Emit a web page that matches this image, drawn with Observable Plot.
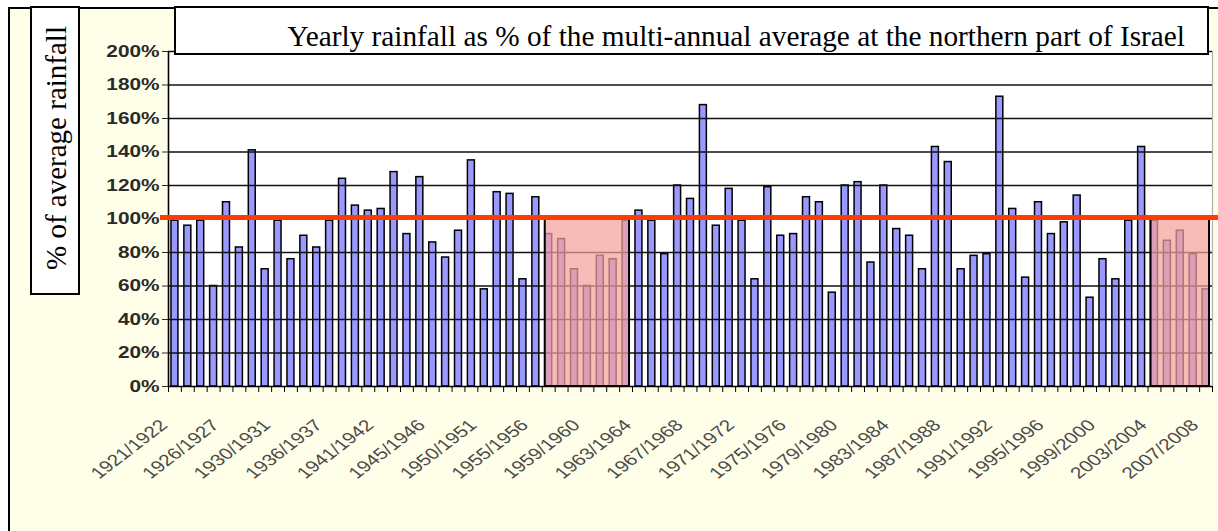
<!DOCTYPE html>
<html>
<head>
<meta charset="utf-8">
<script src="https://cdn.jsdelivr.net/npm/d3@7"></script>
<script src="https://cdn.jsdelivr.net/npm/@observablehq/plot@0.6"></script>
<style>
  html, body { margin: 0; padding: 0; background: #fff; }
  #wrap { position: relative; width: 1218px; height: 531px; overflow: hidden; background: #fff; }
  #outer { position: absolute; left: 8px; top: 7px; width: 1240px; height: 560px; border: 2px solid #000; background: #fffee9; box-sizing: border-box; }
  #chart { position: absolute; left: 0; top: 0; }
  #overlay { position: absolute; left: 0; top: 0; pointer-events: none; }
</style>
</head>
<body>
<div id="wrap">
  <div id="outer"></div>
  <div id="chart"></div>
  <svg id="overlay" width="1218" height="531"></svg>
</div>
<script>
// ---- data -------------------------------------------------------------
const seasons = [
  "1921/1922","1922/1923","1923/1924","1924/1925",
  "1926/1927","1927/1928","1928/1929","1929/1930",
  "1930/1931","1931/1932","1932/1933","1933/1934",
  "1936/1937","1937/1938","1938/1939","1939/1940",
  "1941/1942","1942/1943","1943/1944","1944/1945",
  "1945/1946","1946/1947","1947/1948","1948/1949",
  "1950/1951","1951/1952","1952/1953","1953/1954",
  "1955/1956","1956/1957","1957/1958","1958/1959",
  "1959/1960","1960/1961","1961/1962","1962/1963",
  "1963/1964","1964/1965","1965/1966","1966/1967",
  "1967/1968","1968/1969","1969/1970","1970/1971",
  "1971/1972","1972/1973","1973/1974","1974/1975",
  "1975/1976","1976/1977","1977/1978","1978/1979",
  "1979/1980","1980/1981","1981/1982","1982/1983",
  "1983/1984","1984/1985","1985/1986","1986/1987",
  "1987/1988","1988/1989","1989/1990","1990/1991",
  "1991/1992","1992/1993","1993/1994","1994/1995",
  "1995/1996","1996/1997","1997/1998","1998/1999",
  "1999/2000","2000/2001","2001/2002","2002/2003",
  "2003/2004","2004/2005","2005/2006","2006/2007",
  "2007/2008"
];
// yearly rainfall, % of multi-annual average
const rainfallPct = [
  99, 96, 99, 60, 110, 83, 141, 70, 99, 76,
  90, 83, 99, 124, 108, 105, 106, 128, 91, 125,
  86, 77, 93, 135, 58, 116, 115, 64, 113, 91,
  88, 70, 60, 78, 76, 99, 105, 99, 79, 120,
  112, 168, 96, 118, 99, 64, 119, 90, 91, 113,
  110, 56, 120, 122, 74, 120, 94, 90, 70, 143,
  134, 70, 78, 79, 173, 106, 65, 110, 91, 98,
  114, 53, 76, 64, 99, 143, 99, 87, 93, 79,
  58
];
const tickLabels = [
  "1921/1922","1926/1927","1930/1931","1936/1937","1941/1942","1945/1946",
  "1950/1951","1955/1956","1959/1960","1963/1964","1967/1968","1971/1972",
  "1975/1976","1979/1980","1983/1984","1987/1988","1991/1992","1995/1996",
  "1999/2000","2003/2004","2007/2008"
];
const yTicks = [0, 20, 40, 60, 80, 100, 120, 140, 160, 180, 200];
const averageLevel = 100;
const droughts = [
  {from: "1956/1957", to: "1962/1963"},
  {from: "2003/2004", to: "2007/2008"}
];
const titleText = "Yearly rainfall as % of the multi-annual average at the northern part of Israel";
const yLabelText = "% of average rainfall";

// ---- derived tables ------------------------------------------------
const bars = seasons.map((s, i) => ({season: s, i, v: rainfallPct[i]}));
const half = 0.27;
const droughtRects = droughts.map(d => ({
  x1: seasons.indexOf(d.from) - half,
  x2: seasons.indexOf(d.to) + half
}));
const boundaries = d3.range(seasons.length + 1).map(i => i - 0.5);
const labelPos = tickLabels.map(l => seasons.indexOf(l));
const x0 = -0.5, x1 = seasons.length - 0.5;

const chart = Plot.plot({
  width: 1218,
  height: 531,
  marginLeft: 168,
  marginRight: 6,
  marginTop: 51,
  marginBottom: 145,
  style: {background: "transparent", fontFamily: "'Liberation Sans', Arial, sans-serif", overflow: "visible"},
  x: {type: "linear", domain: [x0, x1]},
  y: {domain: [0, 200]},
  marks: [
    Plot.frame({fill: "white", stroke: "none"}),
    Plot.rectY(bars, {
      x1: d => d.i - half, x2: d => d.i + half, y1: 0, y2: "v",
      fill: "#9999ff", stroke: "#000", strokeWidth: 1.5
    }),
    Plot.gridY({ticks: yTicks.filter(t => t > 0), stroke: "#111", strokeOpacity: 1, strokeWidth: 1.6}),
    Plot.rect(droughtRects, {
      x1: "x1", x2: "x2", y1: 0, y2: averageLevel,
      fill: "#f4a29b", fillOpacity: 0.72, stroke: "#000", strokeWidth: 2
    }),
    Plot.ruleX([x1], {stroke: "#b0b0b0", strokeWidth: 1.2}),
    Plot.ruleY([0], {stroke: "#000", strokeWidth: 1.6}),
    Plot.ruleX([x0], {stroke: "#000", strokeWidth: 1.6}),
    Plot.axisY({
      ticks: yTicks, tickSize: 6, tickPadding: 3, label: null,
      tickFormat: d => d + "%", fontSize: 16, color: "#2a2a2a"
    }),
    Plot.axisX({ticks: boundaries, tickSize: 6, tickFormat: () => "", color: "#000", label: null}),
    Plot.axisX({
      ticks: labelPos, tickSize: 0, tickPadding: 36, tickRotate: -45, dx: -11, label: null,
      tickFormat: i => seasons[i], fontSize: 16, color: "#4a4a4a"
    }),
    Plot.ruleY([averageLevel], {stroke: "#ff3c00", strokeWidth: 5, insetLeft: -8, insetRight: -6, dy: -1.5})
  ]
});
document.getElementById("chart").appendChild(chart);

// the chart picture is horizontally stretched: widen tick label glyphs
function stretch(sel, weight) {
  chart.querySelectorAll(sel).forEach(t => {
    let tr = t.getAttribute("transform");
    if (!tr) {
      const x = t.getAttribute("x") || 0, y = t.getAttribute("y") || 0;
      t.removeAttribute("x"); t.removeAttribute("y");
      tr = `translate(${x},${y})`;
    }
    t.setAttribute("transform", tr.replace(/(translate\([^)]*\))/, "$1 scale(1.3,1)"));
    if (weight) t.style.fontWeight = weight;
  });
}
stretch('g[aria-label="y-axis tick label"] text', "bold");
stretch('g[aria-label="x-axis tick label"] text', null);

// ---- overlay boxes (title and axis title) ------------------------
const ov = d3.select("#overlay");
const serif = "'Liberation Serif', 'Times New Roman', serif";
ov.append("rect").attr("x", 31).attr("y", 7).attr("width", 48).attr("height", 287)
  .attr("fill", "#fff").attr("stroke", "#000").attr("stroke-width", 2);
ov.append("text").attr("transform", "translate(66,148) rotate(-90)")
  .attr("text-anchor", "middle").attr("font-family", serif).attr("font-size", 29)
  .attr("fill", "#000").text(yLabelText);
ov.append("clipPath").attr("id", "tclip").append("rect")
  .attr("x", 175).attr("y", 7).attr("width", 1033).attr("height", 47);
ov.append("rect").attr("x", 175).attr("y", 7).attr("width", 1033).attr("height", 47)
  .attr("fill", "#fff").attr("stroke", "#000").attr("stroke-width", 2);
ov.append("text").attr("x", 1185).attr("y", 46).attr("clip-path", "url(#tclip)")
  .attr("text-anchor", "end").attr("font-family", serif).attr("font-size", 29.3)
  .attr("fill", "#000").text(titleText);
</script>
</body>
</html>
